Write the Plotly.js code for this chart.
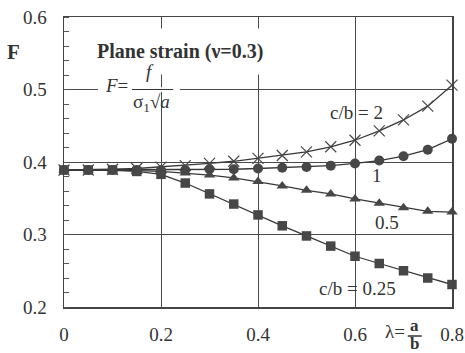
<!DOCTYPE html>
<html>
<head>
<meta charset="utf-8">
<script src="https://cdn.plot.ly/plotly-3.0.1.min.js"></script>
<style>html,body{margin:0;padding:0;background:#fff;}#chart{width:465px;height:353px;}</style>
</head>
<body>
<div id="chart"></div>
<script>
// λ = a/b values
const lambda = [0, 0.05, 0.1, 0.15, 0.2, 0.25, 0.3, 0.35, 0.4, 0.45, 0.5, 0.55, 0.6, 0.65, 0.7, 0.75, 0.8];
// F values for each c/b
const F_cb2   = [0.389, 0.389, 0.390, 0.391, 0.393, 0.395, 0.398, 0.401, 0.405, 0.409, 0.414, 0.421, 0.430, 0.443, 0.458, 0.477, 0.506];
const F_cb1   = [0.389, 0.389, 0.389, 0.389, 0.389, 0.389, 0.390, 0.390, 0.391, 0.392, 0.393, 0.395, 0.398, 0.402, 0.408, 0.417, 0.432];
const F_cb05  = [0.389, 0.389, 0.389, 0.388, 0.387, 0.385, 0.382, 0.378, 0.373, 0.367, 0.361, 0.356, 0.349, 0.343, 0.337, 0.332, 0.331];
const F_cb025 = [0.389, 0.389, 0.389, 0.387, 0.383, 0.371, 0.356, 0.342, 0.327, 0.312, 0.298, 0.284, 0.270, 0.260, 0.250, 0.240, 0.231];
const seriesNames = ['c/b = 2', 'c/b = 1', 'c/b = 0.5', 'c/b = 0.25'];
const xTickVals = [0, 0.2, 0.4, 0.6, 0.8];
const xTickText = ['0', '0.2', '0.4', '0.6', '0.8'];
const yTickVals = [0.2, 0.3, 0.4, 0.5, 0.6];
const yTickText = ['0.2', '0.3', '0.4', '0.5', '0.6'];

const lineCol = '#383838';
const markCol = '#474747';
const serif = 'Times New Roman, Liberation Serif, DejaVu Serif, serif';
const txtCol = '#333';

function tr(y, name, sym, size, extra) {
  return Object.assign({
    x: lambda, y: y, name: name, type: 'scatter', mode: 'lines+markers',
    cliponaxis: false,
    line: {color: lineCol, width: 1.3},
    marker: {symbol: sym, size: size, color: markCol, line: {color: markCol, width: 0}}
  }, extra || {});
}

const data = [
  tr(F_cb2, seriesNames[0], 'x-thin', 11, {marker: {symbol: 'x-thin', size: 11, color: markCol, line: {color: markCol, width: 1.2}}}),
  tr(F_cb1, seriesNames[1], 'circle', 10),
  tr(F_cb05, seriesNames[2], 'triangle-up', 10),
  tr(F_cb025, seriesNames[3], 'square', 9.5)
];

const f = (s) => ({family: serif, size: s, color: txtCol});
function ann(xref, x, y, text, size, extra) {
  return Object.assign({xref: xref, yref: xref === 'x' ? 'y' : 'paper', x: x, y: y, text: text,
    showarrow: false, xanchor: 'center', yanchor: 'middle', font: f(size)}, extra || {});
}

const layout = {
  width: 465, height: 353,
  margin: {l: 64, r: 13, t: 17, b: 46},
  paper_bgcolor: '#fff', plot_bgcolor: '#fff',
  font: f(19),
  showlegend: false,
  xaxis: {
    range: [0, 0.8], tickvals: xTickVals, ticktext: xTickText,
    showgrid: true, gridcolor: '#4a4a4a', gridwidth: 1,
    showline: true, linecolor: '#444', linewidth: 1.5, mirror: true,
    ticks: '', tickfont: f(19), ticklabelstandoff: 10, zeroline: false
  },
  yaxis: {
    range: [0.2, 0.6], tickvals: yTickVals, ticktext: yTickText,
    showgrid: true, gridcolor: '#4a4a4a', gridwidth: 1,
    showline: true, linecolor: '#444', linewidth: 1.5, mirror: true,
    ticks: '', tickfont: f(19), ticklabelstandoff: 12, zeroline: false,
    minor: {dtick: 0.02, tick0: 0.2, ticks: 'inside', ticklen: 5, tickcolor: '#555', showgrid: false}
  },
  shapes: [
    {type: 'rect', xref: 'x', yref: 'y', x0: 0.070, x1: 0.239, y0: 0.497, y1: 0.503,
     fillcolor: '#fff', line: {width: 0}, layer: 'above'},
    {type: 'line', xref: 'x', yref: 'y', x0: 0.140, x1: 0.225, y0: 0.5, y1: 0.5,
     line: {color: '#333', width: 1.2}},
    {type: 'line', xref: 'paper', yref: 'paper', x0: 0.886, x1: 0.922, y0: -0.1, y1: -0.1,
     line: {color: '#333', width: 1.5}}
  ],
  annotations: [
    ann('paper', -0.131, 0.88, '<b>F</b>', 21),
    ann('x', 0.239, 0.552, '<b>Plane strain (ν=0.3)</b>', 20, {bgcolor: '#fff', borderpad: 11}),
    ann('x', 0.109, 0.506, '<i>F</i>=', 19),
    ann('x', 0.177, 0.525, '<i>f</i>', 19),
    ann('x', 0.181, 0.481, 'σ<sub>1</sub>√<i>a</i>', 19),
    ann('x', 0.604, 0.468, 'c/b = 2', 19),
    ann('x', 0.645, 0.381, '1', 19),
    ann('x', 0.666, 0.316, '0.5', 19),
    ann('x', 0.606, 0.226, 'c/b = 0.25', 19),
    ann('paper', 0.853, -0.086, 'λ=', 19),
    ann('paper', 0.904, -0.064, '<b>a</b>', 17, {borderpad: 0}),
    ann('paper', 0.904, -0.126, '<b>b</b>', 17, {borderpad: 0})
  ]
};

Plotly.newPlot('chart', data, layout, {displayModeBar: false, staticPlot: true});
</script>
</body>
</html>
